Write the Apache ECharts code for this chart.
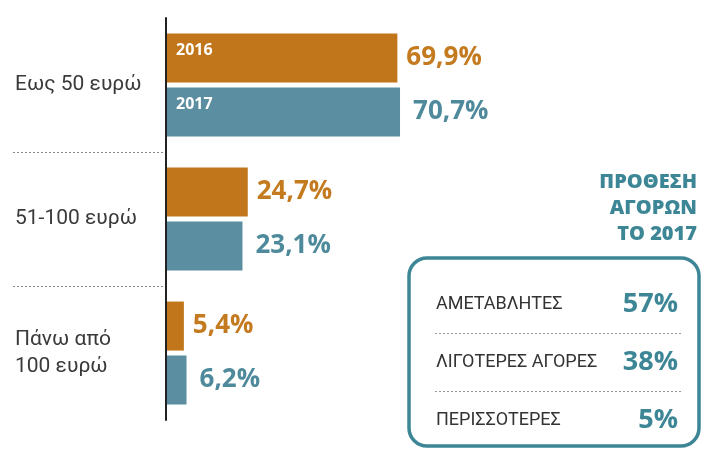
<!DOCTYPE html>
<html>
<head>
<meta charset="utf-8">
<title>Αγορές ανά ποσό</title>
<script src="https://cdn.jsdelivr.net/npm/echarts@6/dist/echarts.min.js"></script>
<style>
html, body { margin: 0; padding: 0; background: #fff; }
#main { width: 702px; height: 449px; }
</style>
</head>
<body>
<div id="main"></div>
<script>
// ποσό ανά αγορά
const categories = ['Εως 50 ευρώ', '51-100 ευρώ', 'Πάνω από\n100 ευρώ']
const seriesNames = ['2016', '2017']
const values2016 = [69.9, 24.7, 5.4]
const values2017 = [70.7, 23.1, 6.2]
// πρόθεση αγορών 2017
const intentTitle = 'ΠΡΟΘΕΣΗ\nΑΓΟΡΩΝ\nΤΟ 2017'
const intentLabels = ['ΑΜΕΤΑΒΛΗΤΕΣ', 'ΛΙΓΟΤΕΡΕΣ ΑΓΟΡΕΣ', 'ΠΕΡΙΣΣΟΤΕΡΕΣ']
const intentValues = [57, 38, 5]

const orange = '#c1761b'
const teal = '#5b8ea0'
const darkTeal = '#3d8696'

const fmt = v => String(v).replace('.', ',') + '%'

function barSeries(name, data, color, textColor, gap) {
  return {
    name: name,
    type: 'bar',
    xAxisIndex: 1,
    yAxisIndex: 1,
    data: data,
    barWidth: 49,
    barGap: '10%',
    itemStyle: { color: color },
    label: {
      show: true,
      position: 'right',
      distance: gap,
      formatter: p => fmt(p.value),
      color: textColor,
      fontSize: 26,
      fontWeight: 'bold',
      fontFamily: 'Open Sans'
    }
  }
}

const myChart = echarts.init(document.getElementById('main'))
const option = {
  animation: false,
  grid: [
    { left: 13, top: 18, width: 153, height: 402 },
    { left: 166, top: 18, width: 331, height: 402 },
    { left: 435, top: 275, width: 248, height: 174 }
  ],
  xAxis: [
    { gridIndex: 0, type: 'value', show: false },
    { gridIndex: 1, type: 'value', min: 0, max: 100, show: false },
    { gridIndex: 2, type: 'value', show: false }
  ],
  yAxis: [
    {
      gridIndex: 0,
      type: 'category',
      data: categories,
      inverse: true,
      axisLine: { show: false },
      axisTick: { show: false },
      axisLabel: { inside: true, margin: 2, align: 'left', color: '#3a3a3a', fontSize: 21, lineHeight: 27, fontFamily: 'Roboto' },
      splitLine: { show: true, showMinLine: false, showMaxLine: false, lineStyle: { color: '#888', type: [2, 2], width: 1 } }
    },
    {
      gridIndex: 1,
      type: 'category',
      data: categories,
      inverse: true,
      z: 5,
      axisLine: { lineStyle: { color: '#222', width: 2 } },
      axisTick: { show: false },
      axisLabel: { show: false }
    },
    {
      gridIndex: 2,
      type: 'category',
      data: intentLabels,
      inverse: true,
      axisLine: { show: false },
      axisTick: { show: false },
      axisLabel: { inside: true, margin: 1, align: 'left', color: '#333', fontSize: 18, fontFamily: 'Roboto' },
      splitLine: { show: true, showMinLine: false, showMaxLine: false, lineStyle: { color: '#999', type: [2, 2], width: 1 } }
    },
    {
      gridIndex: 2,
      type: 'category',
      position: 'right',
      data: intentValues.map(v => v + '%'),
      inverse: true,
      axisLine: { show: false },
      axisTick: { show: false },
      axisLabel: { inside: true, margin: 5, align: 'right', color: darkTeal, fontSize: 27, fontWeight: 'bold', fontFamily: 'Open Sans' }
    }
  ],
  series: [
    barSeries(seriesNames[0], values2016, orange, '#c47a1f', 9),
    barSeries(seriesNames[1], values2017, teal, '#4e8a9b', 13)
  ],
  graphic: [
    {
      type: 'rect',
      id: 'box',
      shape: { x: 409, y: 258, width: 290, height: 188, r: 18 },
      style: { fill: 'none', stroke: darkTeal, lineWidth: 3.5 }
    },
    {
      type: 'text',
      id: 'title',
      x: 697,
      y: 169,
      style: { text: intentTitle, textAlign: 'right', fill: darkTeal, font: '800 20px "Open Sans"', lineHeight: 26 }
    }
  ]
}
myChart.setOption(option)

// ονόματα σειρών μέσα στις πρώτες μπάρες
const yearLabels = seriesNames.map((name, i) => {
  const layout = myChart.getModel().getSeriesByIndex(i).getData().getItemLayout(0)
  const top = Math.min(layout.y, layout.y + layout.height)
  return {
    type: 'text',
    id: 'year' + name,
    x: layout.x + 10,
    y: top + 17,
    z: 10,
    style: { text: name, fill: '#fff', fontSize: 16, fontWeight: 'bold', fontFamily: 'Open Sans', textVerticalAlign: 'middle' }
  }
})
myChart.setOption({ graphic: yearLabels })

window.addEventListener('resize', function() {
  myChart.resize()
})
</script>
</body>
</html>
